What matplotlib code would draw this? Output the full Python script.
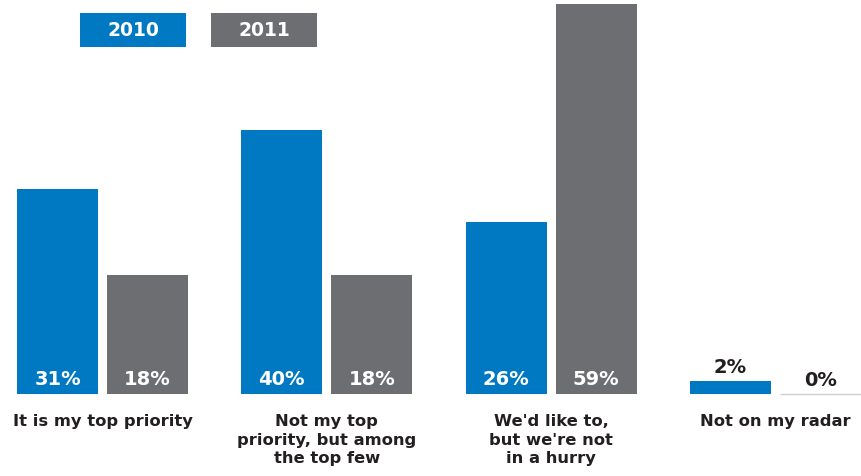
import matplotlib
matplotlib.use("Agg")
import matplotlib.pyplot as plt
from matplotlib.patches import Rectangle
import numpy as np

categories = [
    "It is my top priority",
    "Not my top\npriority, but among\nthe top few",
    "We'd like to,\nbut we're not\nin a hurry",
    "Not on my radar",
]
series_names = ["2010", "2011"]
values_2010 = [31, 40, 26, 2]
values_2011 = [18, 18, 59, 0]

BLUE = "#0079C2"
GREY = "#6D6E71"
DARK = "#231F20"

fig = plt.figure(figsize=(8.61, 4.77), dpi=100)
ax = fig.add_axes([0, 0, 1, 1])

x = np.arange(len(categories))
width = 0.361
off = 0.2006

for vals, color, sign in [(values_2010, BLUE, -1), (values_2011, GREY, 1)]:
    xs = x + sign * off
    ax.bar(xs, vals, width=width, color=color, linewidth=0)
    for xi, v in zip(xs, vals):
        if v >= 5:
            ax.text(xi, 2.3, f"{v}%", ha="center", va="center", color="white",
                    fontsize=14, fontweight="bold")
        else:
            if v == 0:
                ax.hlines(0, xi - width / 2, xi + width / 2, color="#D0D0D0", lw=1)
            ax.text(xi, v + 2.1, f"{v}%", ha="center", va="center", color=DARK,
                    fontsize=14, fontweight="bold")

for xi, cat in zip(x, categories):
    ax.text(xi, -2.9, cat, ha="center", va="top", color=DARK, fontsize=11.8,
            fontweight="bold", linespacing=1.3)

ax.set_xlim(-0.457, 3.382)
ax.set_ylim(-12.45, 59.8)
ax.axis("off")

# legend boxes across the top
for i, (name, color) in enumerate(zip(series_names, [BLUE, GREY])):
    left = (80 + i * 131) / 861
    bottom = 1 - 48 / 477
    w, h = 106 / 861, 34 / 477
    fig.patches.append(Rectangle((left, bottom), w, h, transform=fig.transFigure,
                                 facecolor=color, edgecolor="none"))
    fig.text(left + w / 2, bottom + h / 2, name, ha="center", va="center",
             color="white", fontsize=13.5, fontweight="bold")

fig.savefig("out.png", dpi=100)
